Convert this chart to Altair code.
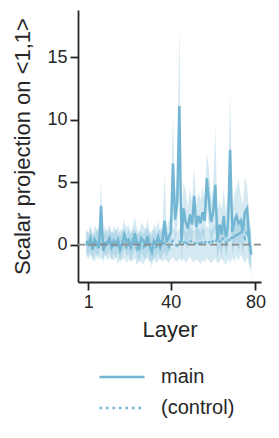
import altair as alt
import pandas as pd

# Layer index 0..78 (axis ticks labelled 1, 40, 80)
layers = list(range(0, 79))

main = [0.3, 0.0, 0.5, -0.4, 0.4, 0.1, -0.3, 3.1, -0.5, 0.1,
        0.2, 0.5, -0.2, 0.3, 0.0, 0.4, -0.4, 0.1, 0.8, 0.2,
        0.4, -0.2, 0.3, 0.9, 0.1, -0.3, 0.5, 0.3, 0.0, 0.7,
        -0.1, -0.6, 0.3, 0.1, 0.6, -0.2, 0.3, 1.9, 0.2, 0.6,
        1.0, 6.5, 2.0, 3.4, 11.1, 0.2, 2.9, 1.8, 1.3, 2.4,
        1.6, 3.9, 1.4, 2.3, 1.7, 2.6, 1.9, 5.3, 3.5, 1.8,
        2.6, 4.8, 0.4, 1.6, 0.8, 2.3, 0.6, 1.5, 7.6, 1.0,
        1.9, 2.3, 1.7, 1.9, 1.1, 2.6, 2.9, 0.5, -0.8]

main_hi = [1.3, 0.9, 1.6, 0.6, 1.5, 1.2, 0.8, 5.3, 0.6, 1.1,
           1.2, 1.6, 0.8, 1.4, 1.1, 1.5, 0.7, 1.3, 2.0, 1.3,
           1.6, 0.9, 1.5, 2.2, 1.3, 0.8, 1.8, 1.5, 1.2, 2.1,
           1.0, 0.6, 1.6, 1.3, 1.9, 1.0, 1.5, 5.6, 1.4, 1.9,
           2.6, 10.4, 3.8, 5.6, 17.8, 2.0, 5.0, 4.3, 3.0, 4.5,
           3.4, 6.2, 3.2, 4.2, 3.6, 4.6, 3.8, 7.4, 6.0, 3.7,
           4.6, 9.4, 2.4, 3.6, 2.8, 4.4, 2.6, 3.6, 12.3, 3.0,
           4.0, 4.6, 5.2, 4.0, 3.2, 5.4, 4.8, 2.4, 1.0]

main_lo = [-0.7, -0.9, -0.5, -1.4, -0.6, -0.9, -1.3, 1.0, -1.5, -0.9,
           -0.8, -0.5, -1.2, -0.7, -1.1, -0.6, -1.5, -0.9, -0.3, -0.9,
           -0.7, -1.3, -0.8, -0.3, -1.0, -1.5, -0.7, -0.9, -1.2, -0.6,
           -1.2, -1.8, -0.9, -1.1, -0.6, -1.3, -0.8, -0.6, -1.0, -0.6,
           -0.4, 2.8, 0.3, 1.2, 4.8, -1.4, 0.9, 0.0, -0.3, 0.6,
           -0.1, 1.7, -0.3, 0.5, 0.0, 0.7, 0.2, 3.0, 1.3, 0.0,
           0.8, 1.2, -1.2, -0.2, -0.9, 0.4, -1.0, -0.3, 3.2, -0.9,
           0.0, 0.2, -0.6, 0.1, -0.8, 0.4, 0.9, -1.2, -2.6]

ctrl = [0.1, -0.2, 0.2, 0.0, -0.3, 0.1, 0.2, -0.1, 0.0, 0.3,
        -0.2, 0.1, 0.0, -0.1, 0.2, -0.3, 0.1, 0.0, 0.2, -0.2,
        0.1, -0.1, 0.0, 0.2, -0.3, 0.1, 0.0, -0.2, 0.1, 0.2,
        -0.1, 0.0, 0.1, -0.2, 0.0, 0.2, -0.1, 0.1, 0.0, -0.2,
        0.1, 0.3, 0.0, -0.1, 0.2, 0.1, 0.3, -0.1, 0.2, 0.4,
        0.1, 0.0, 0.3, 0.2, -0.1, 0.3, 0.1, 0.4, 0.2, 0.0,
        0.3, 0.5, 0.1, 0.2, 0.6, 0.3, 0.1, 0.5, 0.2, 0.8,
        0.4, 1.0, 0.6, 1.2, 0.8, 0.5, 1.1, 0.3, -0.2]

ctrl_hi = [1.1, 0.8, 1.3, 1.0, 0.7, 1.2, 1.3, 0.9, 1.1, 1.4,
           0.8, 1.2, 1.0, 0.9, 1.3, 0.7, 1.2, 1.0, 1.3, 0.8,
           1.2, 0.9, 1.1, 1.3, 0.7, 1.2, 1.0, 0.8, 1.2, 1.3,
           0.9, 1.1, 1.2, 0.8, 1.1, 1.3, 0.9, 1.2, 1.1, 0.8,
           1.2, 1.4, 1.1, 1.0, 1.3, 1.2, 1.4, 1.0, 1.3, 1.5,
           1.2, 1.1, 1.4, 1.3, 1.0, 1.4, 1.2, 1.5, 1.3, 1.1,
           1.4, 1.6, 1.2, 1.3, 1.7, 1.4, 1.2, 1.6, 1.3, 1.9,
           1.5, 2.1, 1.7, 2.3, 1.9, 1.6, 2.2, 1.4, 1.0]

ctrl_lo = [-0.9, -1.2, -0.8, -1.0, -1.4, -0.9, -0.8, -1.2, -1.1, -0.7,
           -1.3, -1.0, -1.2, -1.3, -1.0, -1.6, -1.1, -1.3, -1.1, -1.5,
           -1.2, -1.4, -1.3, -1.1, -1.7, -1.2, -1.4, -1.6, -1.2, -1.1,
           -1.4, -1.3, -1.2, -1.5, -1.3, -1.1, -1.4, -1.2, -1.3, -1.5,
           -1.2, -1.0, -1.3, -1.4, -1.1, -1.3, -1.1, -1.5, -1.2, -1.0,
           -1.3, -1.4, -1.2, -1.3, -1.6, -1.2, -1.4, -1.1, -1.3, -1.5,
           -1.3, -1.1, -1.5, -1.4, -1.1, -1.4, -1.6, -1.2, -1.5, -1.0,
           -1.4, -0.9, -1.3, -0.8, -1.2, -1.5, -1.0, -1.6, -1.9]

series_names = ["main", "(control)"]
zero_line = [0]

C = "#72b6d3"
W, H = 183, 272

df = pd.concat([
    pd.DataFrame({"layer": layers, "value": main, "lo": main_lo, "hi": main_hi, "series": series_names[0]}),
    pd.DataFrame({"layer": layers, "value": ctrl, "lo": ctrl_lo, "hi": ctrl_hi, "series": series_names[1]}),
])

xenc = alt.X("layer:Q",
             scale=alt.Scale(domain=[-3.9, 82.6], nice=False, zero=False),
             axis=alt.Axis(values=[1, 40, 80], title="Layer", titlePadding=8))
yscale = alt.Scale(domain=[-3.0, 18.8], nice=False, zero=False)
yaxis = alt.Axis(values=[0, 5, 10, 15], title="Scalar projection on <1,1>", titlePadding=12)

base = alt.Chart(df)

bands = base.mark_area(color=C, opacity=0.3).encode(
    x=xenc,
    y=alt.Y("lo:Q", scale=yscale, axis=yaxis),
    y2="hi:Q",
    detail="series:N",
)

lines = base.mark_line(color=C, strokeWidth=2.5).encode(
    x=xenc,
    y=alt.Y("value:Q", scale=yscale, axis=yaxis),
    strokeDash=alt.StrokeDash(
        "series:N",
        scale=alt.Scale(domain=series_names, range=[[1, 0], [2.5, 4]]),
        legend=alt.Legend(
            title=None, orient="none", legendX=20, legendY=354,
            direction="vertical", symbolType="stroke", symbolSize=2025,
            symbolStrokeWidth=2.5, symbolStrokeColor=C,
            labelFontSize=20, labelOffset=15, clipHeight=26, rowPadding=5,
        ),
    ),
)

zero = alt.Chart(pd.DataFrame({"y": zero_line})).mark_rule(
    color="#8c8c8c", strokeDash=[7, 4], strokeWidth=1.8
).encode(y=alt.Y("y:Q", scale=yscale), x=alt.value(0), x2=alt.value(W))

chart = alt.layer(bands, lines, zero).properties(
    width=W, height=H,
    padding={"left": 70, "top": 2, "right": 10, "bottom": 148},
    autosize=alt.AutoSizeParams(type="none"),
).configure(
    font="Liberation Sans",
).configure_view(stroke=None).configure_axis(
    grid=False, domainColor="#262626", domainWidth=1.8,
    tickColor="#262626", tickWidth=1.8, tickSize=8,
    labelFontSize=18, labelColor="#262626", labelPadding=3,
    titleFontSize=22, titleFontWeight="normal", titleColor="#262626",
).configure_legend(labelColor="#262626", labelFont="Liberation Sans")

chart.save("out.html", embed_options={"renderer": "svg", "actions": False})
